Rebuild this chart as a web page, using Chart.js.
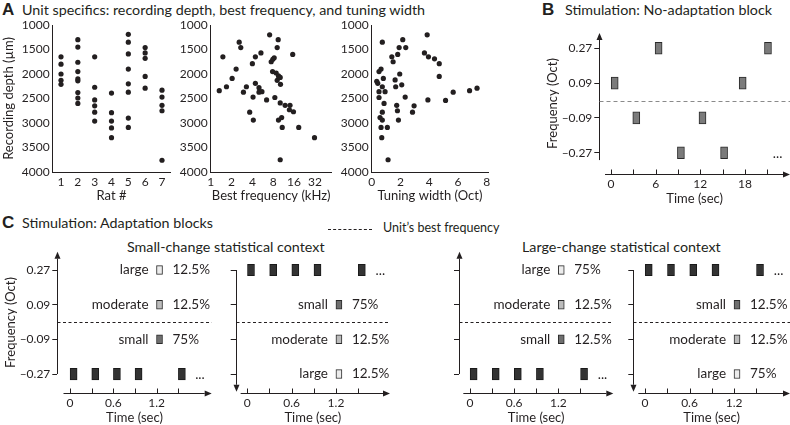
<!DOCTYPE html>
<html>
<head>
<meta charset="utf-8">
<script src="https://cdn.jsdelivr.net/npm/chart.js@4.4.1/dist/chart.umd.min.js"></script>
<style>
  body { margin: 0; width: 790px; height: 425px; overflow: hidden; background: #fff; position: relative;
         font-family: Lato, sans-serif; color: #231f20; }
  canvas { position: absolute; }
  .letter { position: absolute; font-family: "Liberation Sans", Arial, sans-serif; font-weight: bold; font-size: 17px; line-height: 1; }
  .title { position: absolute; font-size: 14.3px; line-height: 1; white-space: nowrap; }
  .sub { position: absolute; font-size: 14.3px; line-height: 1; white-space: nowrap; }
  .key { position: absolute; font-size: 12.5px; line-height: 1; white-space: nowrap; }
  .dash { position: absolute; width: 44px; border-top: 1px dashed #231f20; }
</style>
</head>
<body>
<div class="letter" style="left:2px; top:1px">A</div>
<div class="title" style="left:22px; top:3px">Unit specifics: recording depth, best frequency, and tuning width</div>
<div class="letter" style="left:542px; top:1px">B</div>
<div class="title" style="left:565px; top:3px">Stimulation: No-adaptation block</div>
<div class="letter" style="left:2px; top:214px">C</div>
<div class="title" style="left:22px; top:216px">Stimulation: Adaptation blocks</div>
<div class="dash" style="left:328px; top:229px"></div>
<div class="key" style="left:383px; top:222px">Unit’s best frequency</div>
<div class="sub" style="left:127px; top:240px">Small-change statistical context</div>
<div class="sub" style="left:522px; top:240px">Large-change statistical context</div>

<canvas id="a1" width="180" height="207" style="left:0px; top:0px"></canvas>
<canvas id="a2" width="165" height="207" style="left:176px; top:0px"></canvas>
<canvas id="a3" width="160" height="207" style="left:336px; top:0px"></canvas>
<canvas id="b" width="250" height="206" style="left:540px; top:0px"></canvas>
<canvas id="c1" width="220" height="215" style="left:0px; top:210px"></canvas>
<canvas id="c2" width="170" height="215" style="left:225px; top:210px"></canvas>
<canvas id="c3" width="175" height="215" style="left:445px; top:210px"></canvas>
<canvas id="c4" width="170" height="215" style="left:620px; top:210px"></canvas>

<script>
// ---- panel A data ----
const depthTicks = [1000, 1500, 2000, 2500, 3000, 3500, 4000];

const ratTicks = [1, 2, 3, 4, 5, 6, 7];
const ratNumber = [1,1,1,1,1, 2,2,2,2,2,2,2,2,2, 3,3,3,3,3,3, 4,4,4,4,4, 5,5,5,5,5,5,5,5, 6,6,6,6,6, 7,7,7,7,7];
const ratDepth = [1650,1800,2000,2130,2210, 1300,1450,1760,1950,2100,2140,2380,2490,2600,
                  1650,2270,2530,2650,2780,2960, 2390,2790,2960,3100,3300,
                  1190,1350,1590,1900,2200,2370,2900,3090, 1460,1570,1680,2050,2290,
                  2330,2470,2640,2750,3760];

const bfTicks = [1, 2, 4, 8, 16, 32];
const bfKHz = [1.33,1.5,1.69,2.04,2.33,2.58,2.72,2.97,3.28,3.66,4.0,4.09,4.13,4.42,4.42,4.99,4.99,5.5,5.32,
               6.42,7.1,7.48,7.9,8.27,7.83,8.45,8.83,9.13,9.45,9.13,9.53,10.1,10.2,10.1,9.53,10.6,10.8,10.1,
               11.9,14.0,13.7,15.3,15.7,18.7,31.6];
const bfDepth = [2340,1650,2260,2090,1900,1350,1460,2370,2260,2780,1790,2470,2940,1650,2190,2280,2370,2360,1570,
                 2530,1200,1750,1700,1670,1950,2480,1980,1460,1300,2130,2040,2070,2210,2590,2940,2890,3090,3750,
                 2640,2640,2730,1600,2770,3090,3300];

const twTicks = [0, 2, 4, 6, 8];
const twOct = [0.74,0.51,0.65,0.35,0.42,0.81,0.74,0.51,0.93,0.51,0.86,0.74,0.58,0.74,0.65,1.09,0.70,1.14,
               1.40,1.49,1.91,1.81,2.16,2.37,1.63,1.95,2.09,1.67,2.33,1.74,1.79,1.86,2.95,2.84,
               3.86,3.67,3.95,4.37,4.70,4.70,3.91,5.14,5.67,6.81,7.33];
const twDepth = [1350,1950,1900,2150,2190,2090,2260,2360,2360,2480,2600,2780,2890,2940,3090,3090,3300,3750,
                 1650,1750,1460,1600,1300,1460,2120,2000,2220,2260,2470,2640,2750,2940,2650,2780,
                 1200,1570,1650,1690,1790,2050,2530,2540,2370,2340,2290];

// ---- panel B data ----
const freqTicks = [-0.27, -0.09, 0.09, 0.27];
const freqLabels = ['–0.27', '–0.09', '0.09', '0.27'];
const bTimeTicks = [0, 3, 6, 9, 12, 15, 18, 21];
const bToneTimes = [0.5, 3.4, 6.4, 9.4, 12.3, 15.2, 17.7, 21.1];
const bToneFreqs = [0.09, -0.09, 0.27, -0.27, -0.09, -0.27, 0.09, 0.27];

// ---- panel C data ----
const cTimeTicks = [0, 0.3, 0.6, 0.9, 1.2, 1.5];
const toneOnsets = [0, 0.3, 0.6, 0.9, 1.5];
const toneDur = 0.1;
const standardFreq = -0.27;
const deviantNames = ['small', 'moderate', 'large'];
const deviantFreqs = [-0.09, 0.09, 0.27];
const deviantColors = ['#6f6f6f', '#bcbcbc', '#ececec'];
const smallContextOdds = ['75%', '12.5%', '12.5%'];
const largeContextOdds = ['12.5%', '12.5%', '75%'];
const keyTime = 1.24;

const ink = '#231f20';
Chart.defaults.font.family = 'Lato, sans-serif';
Chart.defaults.font.size = 12;
Chart.defaults.color = ink;
Chart.defaults.animation = false;
Chart.defaults.plugins.legend.display = false;
Chart.defaults.plugins.tooltip.enabled = false;

function fixSize(w, h) {
  return function(scale) {
    if (w != null) scale.width = w;
    if (h != null) scale.height = h;
  };
}
function setTicks(list) {
  return function(scale) { scale.ticks = list.map(v => ({ value: v })); };
}

function scatterPanel(id, xs, ys, xScale, xTitle, yTitle, yWidth, padRight) {
  const pts = xs.map((x, i) => ({ x: x, y: ys[i] }));
  new Chart(document.getElementById(id), {
    type: 'scatter',
    data: { datasets: [{ data: pts, backgroundColor: ink, borderWidth: 0, pointRadius: 2.6 }] },
    options: {
      responsive: false,
      layout: { padding: { top: 25, right: padRight, bottom: 0, left: 0 } },
      scales: {
        x: Object.assign({
          grid: { display: false, drawTicks: false },
          border: { color: ink },
          ticks: { padding: 3, maxRotation: 0, autoSkip: false, callback: v => String(v) },
          title: { display: true, text: xTitle, font: { size: 13, lineHeight: 1 }, padding: { top: 0, bottom: 5 } },
          afterFit: fixSize(null, 35)
        }, xScale),
        y: {
          reverse: true, min: 1000, max: 4000,
          afterBuildTicks: setTicks(depthTicks),
          grid: { display: false, drawTicks: false },
          border: { color: ink },
          ticks: { padding: 3, callback: v => String(v) },
          title: { display: !!yTitle, text: yTitle, font: { size: 13, lineHeight: 1 }, padding: { top: 2, bottom: 0 } },
          afterFit: fixSize(yWidth, null)
        }
      }
    }
  });
}

scatterPanel('a1', ratNumber, ratDepth,
  { type: 'linear', min: 0.5, max: 7.5, afterBuildTicks: setTicks(ratTicks) },
  'Rat #', 'Recording depth (µm)', 52.6, 9.6);
scatterPanel('a2', bfKHz, bfDepth,
  { type: 'logarithmic', min: 1, max: 56, afterBuildTicks: setTicks(bfTicks) },
  'Best frequency (kHz)', '', 34.7, 9.3);
scatterPanel('a3', twOct, twDepth,
  { type: 'linear', min: 0, max: 8.1, afterBuildTicks: setTicks(twTicks) },
  'Tuning width (Oct)', '', 35.7, 7.9);

// axes with arrows, upward time ticks, best-frequency line and notes
function arrowLine(ctx, x0, y0, x1, y1) {
  const len = 7, half = 3;
  const dx = Math.sign(x1 - x0), dy = Math.sign(y1 - y0);
  ctx.beginPath();
  ctx.moveTo(x0, y0);
  ctx.lineTo(x1 - dx * len, y1 - dy * len);
  ctx.stroke();
  ctx.beginPath();
  ctx.moveTo(x1, y1);
  ctx.lineTo(x1 - dx * len - dy * half, y1 - dy * len - dx * half);
  ctx.lineTo(x1 - dx * len + dy * half, y1 - dy * len + dx * half);
  ctx.closePath();
  ctx.fill();
}

const stimAxes = {
  id: 'stimAxes',
  afterDraw(chart, args, o) {
    const { ctx, chartArea, scales: { x, y } } = chart;
    const crisp = v => Math.round(v) + 0.5;
    ctx.save();
    ctx.strokeStyle = ink;
    ctx.fillStyle = ink;
    ctx.lineWidth = 1;

    const yx = crisp(chartArea.left);
    arrowLine(ctx, yx, y.getPixelForValue(o.yLine[0]), yx, y.getPixelForValue(o.yLine[1]));

    const xy = crisp(chartArea.bottom);
    arrowLine(ctx, x.getPixelForValue(o.xStart), xy, x.getPixelForValue(x.max), xy);
    x.ticks.forEach(t => {
      const px = crisp(x.getPixelForValue(t.value));
      ctx.beginPath();
      ctx.moveTo(px, xy - 5);
      ctx.lineTo(px, xy);
      ctx.stroke();
    });

    ctx.setLineDash(o.dash);
    ctx.strokeStyle = o.dashColor;
    const zy = crisp(y.getPixelForValue(0));
    ctx.beginPath();
    ctx.moveTo(yx, zy);
    ctx.lineTo(chartArea.right, zy);
    ctx.stroke();
    ctx.setLineDash([]);

    ctx.font = '13.5px Lato, sans-serif';
    ctx.textBaseline = 'middle';
    ctx.textAlign = 'center';
    ctx.fillText('...', x.getPixelForValue(o.more), y.getPixelForValue(standardFreq) + 1);

    if (o.odds) {
      const cx = x.getPixelForValue(keyTime);
      deviantNames.forEach((name, i) => {
        const py = y.getPixelForValue(deviantFreqs[i]);
        ctx.textAlign = 'right';
        ctx.fillText(name, cx - 11, py);
        ctx.textAlign = 'left';
        ctx.fillText(o.odds[i], cx + 13, py);
      });
    }
    ctx.restore();
  }
};

function timeScale(min, max, ticks, labelEvery) {
  return {
    type: 'linear', offset: false, min: min, max: max,
    afterBuildTicks: setTicks(ticks),
    grid: { display: false, drawTicks: false },
    border: { display: false },
    ticks: { padding: 3, maxRotation: 0, autoSkip: false,
             callback: (v, i) => (i % labelEvery === 0 ? String(v) : '') },
    title: { display: true, text: 'Time (sec)', font: { size: 13, lineHeight: 1 }, padding: { top: 0, bottom: 1 } }
  };
}

function freqScale(min, max, reverse, showLabels, width, titlePad) {
  return {
    min: min, max: max, reverse: reverse,
    afterBuildTicks: setTicks(freqTicks),
    grid: { drawOnChartArea: false, drawTicks: true, tickLength: 5, color: ink },
    border: { display: false },
    ticks: { display: showLabels, padding: 2, callback: (v, i) => freqLabels[i] },
    title: { display: showLabels, text: 'Frequency (Oct)', font: { size: 13, lineHeight: 1 }, padding: { top: titlePad, bottom: 0 } },
    afterFit: fixSize(width, null)
  };
}

// panel B
new Chart(document.getElementById('b'), {
  type: 'bar',
  data: { datasets: [{
    data: bToneTimes.map((t, i) => ({ x: t, y: [bToneFreqs[i] - 0.031, bToneFreqs[i] + 0.031] })),
    backgroundColor: '#7b7b7b', borderColor: '#2a2a2a', borderWidth: 1, borderSkipped: false,
    barThickness: 7, grouped: false
  }] },
  options: {
    responsive: false,
    layout: { padding: { top: 33, right: 0, bottom: 0, left: 0 } },
    scales: {
      x: Object.assign(timeScale(-1.57, 24.06, bTimeTicks, 2), { afterFit: fixSize(null, 32) }),
      y: freqScale(-0.38, 0.349, false, true, 59.3, 6.5)
    },
    plugins: { stimAxes: { yLine: [-0.308, 0.349], xStart: -0.8, dash: [4, 3], dashColor: '#8a8a8a', more: 22.4 } }
  },
  plugins: [stimAxes]
});

// panel C
function contextPanel(id, flip, odds, showLabels, yWidth, xMin, xMax, padRight) {
  const standards = toneOnsets.map(t => ({ x: t + toneDur / 2, y: [standardFreq - 0.03, standardFreq + 0.03] }));
  const keys = deviantFreqs.map(f => ({ x: keyTime, y: [f - 0.023, f + 0.023] }));
  new Chart(document.getElementById(id), {
    type: 'bar',
    data: { datasets: [
      { data: standards, backgroundColor: '#333333', borderColor: '#1a1a1a', borderWidth: 1, borderSkipped: false, barThickness: 7, grouped: false },
      { data: keys, backgroundColor: deviantColors, borderColor: '#2a2a2a', borderWidth: 1, borderSkipped: false, barThickness: 6, grouped: false }
    ] },
    options: {
      responsive: false,
      layout: { padding: { top: 41.7, right: padRight, bottom: 0, left: 0 } },
      scales: {
        x: Object.assign(timeScale(xMin, xMax, cTimeTicks, 2), { afterFit: fixSize(null, 31.7) }),
        y: flip ? freqScale(-0.365, 0.37, true, false, yWidth, 0)
                : freqScale(-0.37, 0.365, false, showLabels, yWidth, 4.5)
      },
      plugins: { stimAxes: {
        yLine: flip ? [-0.27, 0.362] : [-0.27, 0.365],
        xStart: -0.09, dash: [3, 2.5], dashColor: ink, more: 1.8, odds: odds
      } }
    },
    plugins: [stimAxes]
  });
}

contextPanel('c1', false, smallContextOdds, true, 57.3, -0.176, 1.963, 8.3);
contextPanel('c2', true, smallContextOdds, false, 10.7, -0.157, 1.931, 5);
contextPanel('c3', false, largeContextOdds, false, 14, -0.149, 1.947, 6.7);
contextPanel('c4', true, largeContextOdds, false, 13.3, -0.158, 1.954, 0);
</script>
</body>
</html>
